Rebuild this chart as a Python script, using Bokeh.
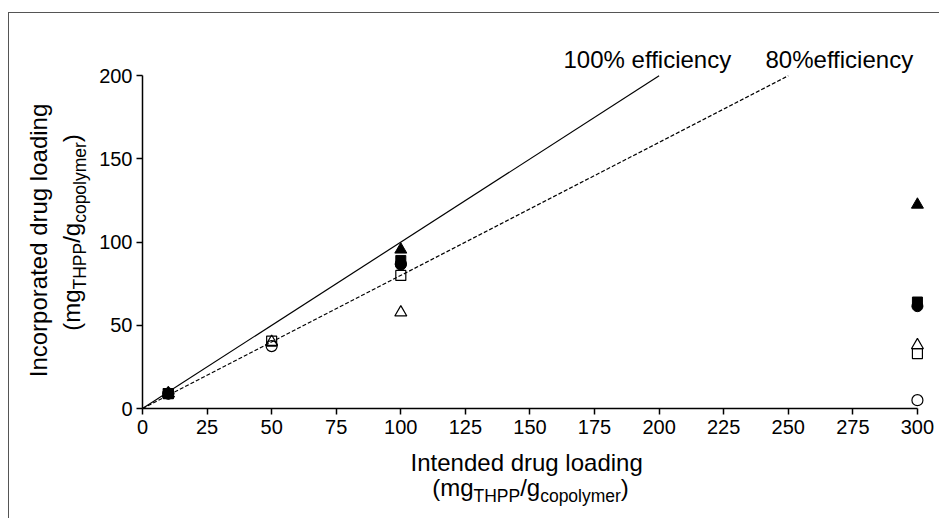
import math
from bokeh.plotting import figure
from bokeh.layouts import column, row
from bokeh.models import FixedTicker, Range1d, Label
from bokeh.core.properties import value
from bokeh.embed import file_html
from bokeh.resources import INLINE

# ---------------- data ----------------
x_ticks = [0, 25, 50, 75, 100, 125, 150, 175, 200, 225, 250, 275, 300]
y_ticks = [0, 50, 100, 150, 200]

eff100_x = [0, 200]
eff100_y = [0, 200]
eff80_x = [0, 250]
eff80_y = [0, 200]

open_circle_x = [10, 50, 100, 300]
open_circle_y = [9, 37.5, 87, 5]
open_square_x = [10, 50, 100, 300]
open_square_y = [9, 40.5, 80, 33]
open_triangle_x = [10, 50, 100, 300]
open_triangle_y = [9, 40, 57.7, 38]
filled_circle_x = [10, 100, 300]
filled_circle_y = [9, 86.5, 61.5]
filled_square_x = [10, 100, 300]
filled_square_y = [9, 89, 64]
filled_triangle_x = [10, 100, 300]
filled_triangle_y = [9, 95.5, 122.5]

x_label_1 = "Intended drug  loading"
y_label_1 = "Incorporated drug loading"
unit_pieces = [("(mg", False), ("THPP", True), ("/g", False), ("copolymer", True), (")", False)]
label_100 = "100% efficiency"
label_80 = "80%efficiency"

# ---------------- layout ----------------
FONT = "Liberation Sans"
OX, OY = 9, 13              # page position of the layout's top-left
LW = 86                     # left label strip width
MW, TH = 844, 432           # main figure width / height
BH = 73                     # bottom label strip height
FRAME_H = 366
ML, MR, MT, MB = 47, 12, 29, TH - 29 - FRAME_H
X_END, Y_END = 303.9, 220
XS = (MW - ML - MR) / X_END
YS = FRAME_H / Y_END
PX0, PY0 = 142, 408         # page position of the data origin
FRAME_TOP = PY0 - FRAME_H   # page y of the frame top

MAIN, SUB = 24, 17.5
SHIFT = 0.4                 # baseline correction (em) for Bokeh text anchoring

ARIAL = {' ': 278, '(': 333, ')': 333, '/': 278, '%': 889, 'T': 611, 'H': 722, 'P': 667, 'I': 278,
         'a': 556, 'c': 500, 'd': 556, 'e': 556, 'f': 278, 'g': 556, 'i': 222, 'l': 222, 'm': 833,
         'n': 556, 'o': 556, 'p': 556, 'r': 333, 't': 278, 'u': 556, 'y': 500}


def tw(s, size):
    return sum(ARIAL.get(c, 556) for c in s) * size / 1000.0


def strip(w, h, xr, yr):
    f = figure(width=w, height=h, output_backend="svg", toolbar_location=None,
               x_range=xr, y_range=yr, min_border=0)
    f.axis.visible = False
    f.grid.visible = False
    f.outline_line_color = None
    f.background_fill_color = "white"
    f.border_fill_color = "white"
    return f


# ---------------- main plot ----------------
p = figure(width=MW, height=TH, output_backend="svg", toolbar_location=None,
           x_range=Range1d(0, X_END), y_range=Range1d(0, Y_END),
           min_border_left=ML, min_border_right=MR, min_border_top=MT, min_border_bottom=MB)
p.outline_line_color = None
p.xgrid.visible = False
p.ygrid.visible = False
p.background_fill_color = "white"
p.border_fill_color = "white"

for ax, ticks, bnds in ((p.xaxis[0], x_ticks, (0, 300)), (p.yaxis[0], y_ticks, (0, 200))):
    ax.ticker = FixedTicker(ticks=ticks)
    ax.bounds = bnds
    ax.axis_line_width = 1.5
    ax.axis_line_color = "black"
    ax.major_tick_line_width = 1.5
    ax.major_tick_line_color = "black"
    ax.major_tick_out = 6
    ax.major_tick_in = 0
    ax.minor_tick_line_color = None
    ax.major_label_text_font = FONT
    ax.major_label_text_font_size = "20px"
    ax.major_label_text_color = "black"
p.xaxis.major_label_standoff = 5
p.yaxis.major_label_standoff = 4

p.line(eff100_x, eff100_y, line_color="black", line_width=1.2)
p.line(eff80_x, eff80_y, line_color="black", line_width=1.2, line_dash="4 2")

p.scatter(filled_circle_x, filled_circle_y, marker="circle", size=11, fill_color="black", line_color="black")
p.scatter(filled_square_x, filled_square_y, marker="square", size=10, fill_color="black", line_color="black")
p.scatter(filled_triangle_x, filled_triangle_y, marker="triangle", size=12, fill_color="black", line_color="black")
p.scatter(open_circle_x, open_circle_y, marker="circle", size=11, fill_color=None, line_color="black", line_width=1.2)
p.scatter(open_square_x, open_square_y, marker="square", size=10, fill_color=None, line_color="black", line_width=1.2)
p.scatter(open_triangle_x, open_triangle_y, marker="triangle", size=12, fill_color=None, line_color="black", line_width=1.2)

for txt, px in ((label_100, 563), (label_80, 765)):
    p.add_layout(Label(x=(px - PX0) / XS, y=(PY0 - (68.5 - SHIFT * 24)) / YS, text=txt, text_font=FONT,
                       text_font_size="24px", text_color="black", text_align="left",
                       text_baseline="alphabetic"))

# ---------------- left strip: y-axis title (frame aligned with main frame; data = -page y) ----------------
left = strip(LW, TH, Range1d(OX, OX + LW), Range1d(-PY0, -FRAME_TOP))


def lx(px, size):
    return px - SHIFT * size


left.text(x=[lx(48, MAIN)], y=[-240], text=[y_label_1], text_font=value(FONT), text_font_size=f"{MAIN}px",
          text_color="black", text_align="center", text_baseline="alphabetic", angle=math.pi / 2)
total = sum(tw(s, SUB if sub else MAIN) for s, sub in unit_pieces)
cy = 232 + total / 2
for s, sub in unit_pieces:
    size = SUB if sub else MAIN
    left.text(x=[lx(86 if sub else 81, size)], y=[-cy], text=[s], text_font=value(FONT),
              text_font_size=f"{size}px", text_color="black", text_align="left",
              text_baseline="alphabetic", angle=math.pi / 2)
    cy -= tw(s, size)

# ---------------- bottom strip: x-axis title ----------------
btop = OY + TH + BH
bottom = strip(LW + MW, BH, Range1d(0, LW + MW), Range1d(0, BH))


def by(py, size):
    return btop - (py - SHIFT * size)


bottom.text(x=[529.5 - OX], y=[by(472, MAIN)], text=[x_label_1], text_font=value(FONT), text_font_size=f"{MAIN}px",
            text_color="black", text_align="center", text_baseline="alphabetic")
cx = 530 - total / 2
for s, sub in unit_pieces:
    size = SUB if sub else MAIN
    bottom.text(x=[cx - OX], y=[by(502 if sub else 497, size)], text=[s], text_font=value(FONT),
                text_font_size=f"{size}px", text_color="black", text_align="left",
                text_baseline="alphabetic")
    cx += tw(s, size)

layout = column(row(left, p), bottom)
layout.styles = {"border-top": "1px solid #555", "border-left": "1px solid #555",
                 "margin-top": "12px", "margin-left": "8px"}

open("out.html", "w").write(file_html(layout, INLINE))
